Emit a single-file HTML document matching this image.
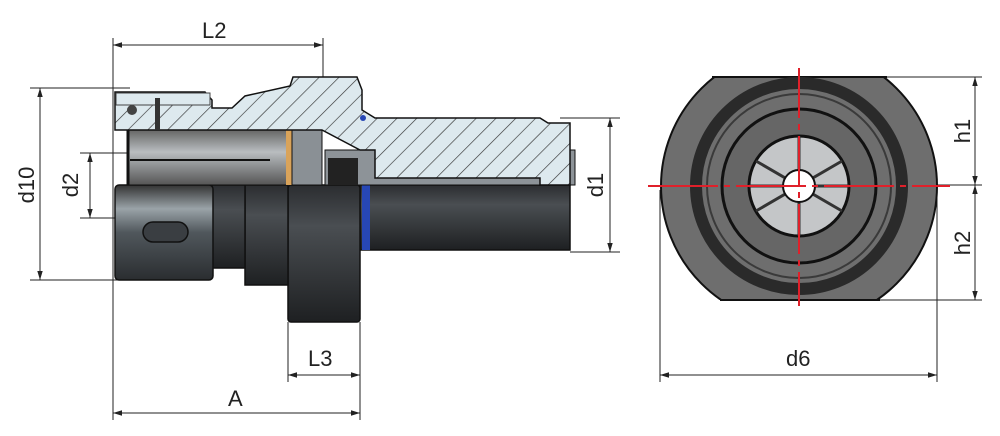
<!DOCTYPE html>
<html><head><style>body{margin:0;background:#fff}svg{display:block}text{font-family:"Liberation Sans",sans-serif;font-size:22px;fill:#222}</style></head><body>
<svg width="1000" height="436" viewBox="0 0 1000 436" xmlns="http://www.w3.org/2000/svg">
<defs>
<pattern id="h" width="14" height="14" patternUnits="userSpaceOnUse" patternTransform="rotate(45)"><rect width="14" height="14" fill="#dde9ee"/><line x1="0" y1="0" x2="0" y2="14" stroke="#333" stroke-width="1.3"/></pattern>
<linearGradient id="m" x1="0" y1="0" x2="0" y2="1"><stop offset="0" stop-color="#333"/><stop offset=".25" stop-color="#9aa3a8"/><stop offset=".5" stop-color="#50575c"/><stop offset="1" stop-color="#2a2d30"/></linearGradient>
<linearGradient id="d" x1="0" y1="0" x2="0" y2="1"><stop offset="0" stop-color="#2b2d30"/><stop offset=".3" stop-color="#4a4e52"/><stop offset="1" stop-color="#1e2022"/></linearGradient>
<linearGradient id="b" x1="0" y1="0" x2="0" y2="1"><stop offset="0" stop-color="#666"/><stop offset=".4" stop-color="#b9bdc0"/><stop offset="1" stop-color="#555"/></linearGradient>
<marker id="a" viewBox="0 0 10 10" refX="10" refY="5" markerWidth="9" markerHeight="9" orient="auto-start-reverse"><path d="M0,2 L10,5 L0,8z" fill="#222"/></marker>
</defs>
<g stroke="#222" stroke-width="1" fill="none">
<line x1="113" y1="38" x2="113" y2="420"/><line x1="323" y1="38" x2="323" y2="120"/>
<line x1="30" y1="88" x2="130" y2="88"/><line x1="30" y1="280" x2="125" y2="280"/>
<line x1="80" y1="153" x2="135" y2="153"/><line x1="80" y1="218" x2="130" y2="218"/>
<line x1="560" y1="118" x2="620" y2="118"/><line x1="570" y1="252" x2="620" y2="252"/>
<line x1="288" y1="322" x2="288" y2="382"/><line x1="360" y1="322" x2="360" y2="420"/>
<line x1="660" y1="190" x2="660" y2="382"/><line x1="937" y1="190" x2="937" y2="382"/>
<line x1="885" y1="77" x2="982" y2="77"/><line x1="890" y1="185" x2="982" y2="185"/><line x1="880" y1="300" x2="982" y2="300"/>
<line x1="113" y1="45" x2="323" y2="45" marker-start="url(#a)" marker-end="url(#a)"/>
<line x1="40" y1="88" x2="40" y2="280" marker-start="url(#a)" marker-end="url(#a)"/>
<line x1="90" y1="153" x2="90" y2="218" marker-start="url(#a)" marker-end="url(#a)"/>
<line x1="610" y1="118" x2="610" y2="252" marker-start="url(#a)" marker-end="url(#a)"/>
<line x1="288" y1="375" x2="360" y2="375" marker-start="url(#a)" marker-end="url(#a)"/>
<line x1="113" y1="413" x2="360" y2="413" marker-start="url(#a)" marker-end="url(#a)"/>
<line x1="660" y1="375" x2="937" y2="375" marker-start="url(#a)" marker-end="url(#a)"/>
<line x1="975" y1="77" x2="975" y2="185" marker-start="url(#a)" marker-end="url(#a)"/>
<line x1="975" y1="185" x2="975" y2="300" marker-start="url(#a)" marker-end="url(#a)"/>
</g>
<g stroke="#111" stroke-width="1.5">
<rect x="360" y="185" width="210" height="65" fill="url(#d)"/>
<rect x="288" y="185" width="72" height="137" rx="3" fill="url(#d)"/>
<rect x="245" y="185" width="43" height="100" fill="url(#d)"/>
<rect x="212" y="185" width="33" height="83" fill="url(#d)"/>
<rect x="115" y="185" width="98" height="95" rx="4" fill="url(#m)"/>
<rect x="143" y="222" width="45" height="20" rx="10" fill="#3a3e42"/>
<rect x="362" y="185" width="8" height="65" fill="#2747b5" stroke="none"/>
</g>
<rect x="128" y="130" width="160" height="55" fill="url(#b)" stroke="#111"/>
<rect x="286" y="130" width="6" height="55" fill="#d9a35a"/>
<rect x="292" y="130" width="30" height="55" fill="#8a9095" stroke="#111"/>
<rect x="325" y="150" width="250" height="35" fill="#8d9398" stroke="#111"/>
<rect x="328" y="158" width="30" height="27" fill="#222"/>
<path d="M115,92 L205,92 L212,100 L212,108 L232,108 L245,96 L290,86 L293,77 L357,77 L362,90 L362,110 L375,118 L540,118 L548,123 L570,123 L570,185 L540,185 L540,178 L375,178 L375,150 L360,150 L322,130 L128,130 L115,130 Z" fill="url(#h)" stroke="#111" stroke-width="1.5"/>
<rect x="116" y="93" width="94" height="12" fill="#dde9ee" stroke="#444"/>
<circle cx="132" cy="110" r="5" fill="#444"/>
<rect x="155" y="98" width="5" height="32" fill="#333"/>
<circle cx="363" cy="118" r="3" fill="#2747b5"/>
<line x1="130" y1="160" x2="270" y2="160" stroke="#111" stroke-width="2"/>
<line x1="128" y1="130" x2="128" y2="185" stroke="#111" stroke-width="3"/>
<clipPath id="c"><rect x="650" y="77" width="300" height="223"/></clipPath>
<g clip-path="url(#c)">
<circle cx="799" cy="186" r="138" fill="#6e6e6e" stroke="#111" stroke-width="2"/>
</g>
<line x1="712" y1="77" x2="887" y2="77" stroke="#111" stroke-width="2"/>
<line x1="720" y1="300" x2="880" y2="300" stroke="#111" stroke-width="2"/>
<circle cx="799" cy="186" r="103" fill="none" stroke="#2a2a2a" stroke-width="12"/>
<circle cx="799" cy="186" r="92" fill="none" stroke="#3a3a3a" stroke-width="2"/>
<circle cx="799" cy="186" r="77" fill="#666" stroke="#111" stroke-width="3"/>
<circle cx="799" cy="186" r="50" fill="#c4c6c8" stroke="#111" stroke-width="3"/>
<g stroke="#333" stroke-width="3"><line x1="799" y1="136" x2="799" y2="236"/><line x1="756" y1="161" x2="842" y2="211"/><line x1="756" y1="211" x2="842" y2="161"/><line x1="749" y1="186" x2="849" y2="186"/></g>
<circle cx="799" cy="186" r="16" fill="#fff" stroke="#111" stroke-width="2"/>
<g stroke="#e0202a" stroke-width="2"><line x1="799" y1="68" x2="799" y2="306" stroke-dasharray="50,6,6,6"/><line x1="648" y1="186" x2="950" y2="186" stroke-dasharray="70,6,6,6"/></g>
<text x="202" y="38">L2</text>
<text x="308" y="366">L3</text>
<text x="228" y="406">A</text>
<text x="786" y="366">d6</text>
<text transform="translate(34,185) rotate(-90)" text-anchor="middle">d10</text>
<text transform="translate(78,185) rotate(-90)" text-anchor="middle">d2</text>
<text transform="translate(603,185) rotate(-90)" text-anchor="middle">d1</text>
<text transform="translate(970,131) rotate(-90)" text-anchor="middle">h1</text>
<text transform="translate(970,243) rotate(-90)" text-anchor="middle">h2</text>
</svg>
</body></html>
